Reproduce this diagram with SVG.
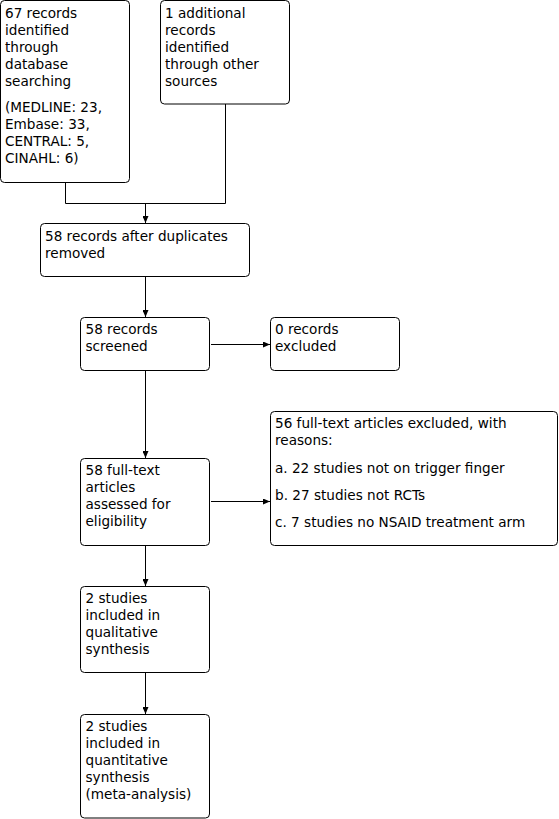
<svg xmlns="http://www.w3.org/2000/svg" width="559" height="819" viewBox="0 0 559 819">
<style>
.box{fill:#fff;stroke:#000;stroke-width:1}
.t{font-family:"DejaVu Sans",sans-serif;font-size:13.6px;fill:#000}
.c{fill:none;stroke:#000;stroke-width:1}
</style>
<defs>
<marker id="ah" markerUnits="userSpaceOnUse" markerWidth="7" markerHeight="6" refX="7" refY="3" orient="auto">
<path d="M0,0 L7,3 L0,6 z" fill="#000"/>
</marker>
</defs>
<rect width="559" height="819" fill="#fff"/>
<g id="connectors">
<path class="c" d="M65.5,182.5 V203.5 H225.5 V104"/>
<path class="c" d="M145.5,203.5 V223" marker-end="url(#ah)"/>
<path class="c" d="M145.5,276.5 V317" marker-end="url(#ah)"/>
<path class="c" d="M211,344.5 H270" marker-end="url(#ah)"/>
<path class="c" d="M145.5,370.5 V458" marker-end="url(#ah)"/>
<path class="c" d="M211,501.5 H270" marker-end="url(#ah)"/>
<path class="c" d="M145.5,545.5 V586" marker-end="url(#ah)"/>
<path class="c" d="M145.5,672.5 V714" marker-end="url(#ah)"/>
</g>
<g id="n1">
<rect class="box" x="0.5" y="0.5" width="129" height="182" rx="4"/>
<text class="t" x="5" y="18">67 records</text>
<text class="t" x="5" y="35">identified</text>
<text class="t" x="5" y="52">through</text>
<text class="t" x="5" y="69">database</text>
<text class="t" x="5" y="86">searching</text>
<text class="t" x="5" y="112">(MEDLINE: 23,</text>
<text class="t" x="5" y="129">Embase: 33,</text>
<text class="t" x="5" y="146">CENTRAL: 5,</text>
<text class="t" x="5" y="163">CINAHL: 6)</text>
</g>
<g id="n2">
<rect class="box" x="160.5" y="0.5" width="129" height="103.5" rx="4"/>
<text class="t" x="165" y="18">1 additional</text>
<text class="t" x="165" y="35">records</text>
<text class="t" x="165" y="52">identified</text>
<text class="t" x="165" y="69">through other</text>
<text class="t" x="165" y="86">sources</text>
</g>
<g id="n3">
<rect class="box" x="40.5" y="223.5" width="209" height="53" rx="4"/>
<text class="t" x="45" y="241">58 records after duplicates</text>
<text class="t" x="45" y="258">removed</text>
</g>
<g id="n4">
<rect class="box" x="80.5" y="317.5" width="129" height="53" rx="4"/>
<text class="t" x="85.5" y="334">58 records</text>
<text class="t" x="85.5" y="351">screened</text>
</g>
<g id="n5">
<rect class="box" x="270.5" y="317.5" width="129" height="53" rx="4"/>
<text class="t" x="275" y="334">0 records</text>
<text class="t" x="275" y="351">excluded</text>
</g>
<g id="n6">
<rect class="box" x="80.5" y="458.5" width="129" height="87" rx="4"/>
<text class="t" x="85.5" y="475">58 full-text</text>
<text class="t" x="85.5" y="492">articles</text>
<text class="t" x="85.5" y="509">assessed for</text>
<text class="t" x="85.5" y="526">eligibility</text>
</g>
<g id="n7">
<rect class="box" x="270.5" y="411.5" width="287" height="134" rx="4"/>
<text class="t" x="275" y="428">56 full-text articles excluded, with</text>
<text class="t" x="275" y="445">reasons:</text>
<text class="t" x="275" y="473">a. 22 studies not on trigger finger</text>
<text class="t" x="275" y="500">b. 27 studies not RCTs</text>
<text class="t" x="275" y="527">c. 7 studies no NSAID treatment arm</text>
</g>
<g id="n8">
<rect class="box" x="80.5" y="586.5" width="129" height="86" rx="4"/>
<text class="t" x="85.5" y="603">2 studies</text>
<text class="t" x="85.5" y="620">included in</text>
<text class="t" x="85.5" y="637">qualitative</text>
<text class="t" x="85.5" y="654">synthesis</text>
</g>
<g id="n9">
<rect class="box" x="80.5" y="714.5" width="129" height="103.5" rx="4"/>
<text class="t" x="85.5" y="731">2 studies</text>
<text class="t" x="85.5" y="748">included in</text>
<text class="t" x="85.5" y="765">quantitative</text>
<text class="t" x="85.5" y="782">synthesis</text>
<text class="t" x="85.5" y="799">(meta-analysis)</text>
</g>
</svg>
